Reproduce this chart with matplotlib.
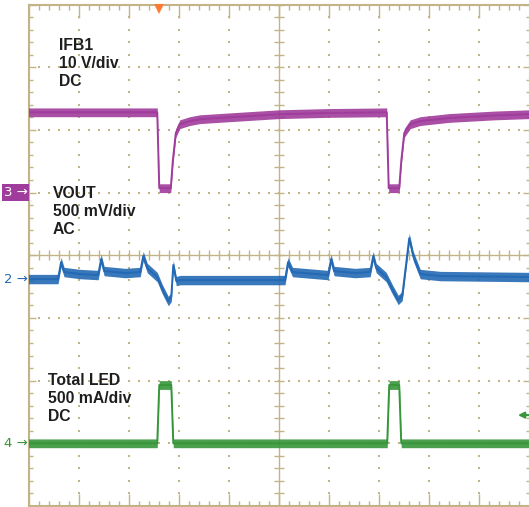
import numpy as np
import matplotlib.pyplot as plt
from matplotlib.transforms import blended_transform_factory

# time axis in screen divisions (10 div across)
ifb_t = [0, 2.57, 2.61, 2.84, 2.88, 2.94, 3.02, 3.22, 3.42, 4.0, 5.0, 6.0,
         7.15, 7.19, 7.40, 7.44, 7.50, 7.62, 7.82, 8.4, 9.3, 10]
ifb_v = [12.8, 12.8, 0.7, 0.7, 5.0, 9.5, 10.9, 11.4, 11.7, 12.0, 12.5, 12.7,
         12.8, 0.7, 0.7, 5.0, 9.5, 10.9, 11.4, 11.9, 12.3, 12.5]

vout_t = [0, 0.59, 0.65, 0.71, 1.03, 1.39, 1.45, 1.51, 1.93, 2.23, 2.29, 2.37,
          2.57, 2.67, 2.79, 2.85, 2.89, 2.95, 3.03, 5.12, 5.18, 5.27, 5.98,
          6.04, 6.10, 6.52, 6.82, 6.88, 6.94, 7.14, 7.26, 7.38, 7.46, 7.60,
          7.68, 7.82, 8.22, 10]
vout_mv = [0, 0, 135, 56, 40, 32, 160, 64, 48, 56, 183, 88,
           16, -80, -175, -143, 112, -16, -8, -8, 135, 56, 32,
           160, 64, 48, 56, 183, 88, 16, -80, -167, -135, 327,
           183, 40, 24, 16]

led_t = [0, 2.57, 2.61, 2.85, 2.89, 7.16, 7.20, 7.40, 7.44, 10]
led_ma = [0, 0, 465, 465, 0, 0, 465, 465, 0, 0]

# channel settings: units per div and ground marker position (div)
ifb_scale, ifb_pos = 10.0, 1.0
vout_scale, vout_pos = 500.0, -0.38
led_scale, led_pos = 500.0, -3.0
trig_t = 2.61
trig_level = 225  # mA, on the LED channel

grid_c = '#c3b487'
purple = '#a03c9b'
blue = '#2369b4'
green = '#37963a'
orange = '#ff7a33'

fig = plt.figure(figsize=(5.29, 5.07), dpi=100)
ax = fig.add_axes([28.5/529, 1/507, 501/529, 501.5/507])
ax.set_xlim(0, 10)
ax.set_ylim(-4, 4)

# graticule
minor_x = np.arange(0, 10.001, 0.2)
minor_y = np.arange(-4, 4.001, 0.2)
for gx in [1, 2, 3, 4, 6, 7, 8, 9]:
    ax.scatter(np.full(len(minor_y), gx), minor_y, s=1.6, marker='s',
               color=grid_c, lw=0, zorder=1)
for gy in [-3, -2, -1, 1, 2, 3]:
    ax.scatter(minor_x, np.full(len(minor_x), gy), s=1.6, marker='s',
               color=grid_c, lw=0, zorder=1)
ax.axvline(5, color=grid_c, lw=1, zorder=1)
ax.axhline(0, color=grid_c, lw=1, zorder=1)
ax.vlines(minor_x, -0.08, 0.08, color=grid_c, lw=1, zorder=1)
ax.hlines(minor_y, 4.9, 5.1, color=grid_c, lw=1, zorder=1)

ax.set_xticks(range(11))
ax.set_yticks(range(-4, 5))
ax.set_xticks(minor_x, minor=True)
ax.set_yticks(minor_y, minor=True)
ax.tick_params(which='both', direction='in', top=True, right=True,
               labelbottom=False, labelleft=False, color=grid_c, width=1)
ax.tick_params(axis='x', which='major', length=9)
ax.tick_params(axis='x', which='minor', length=3.5)
ax.tick_params(axis='y', which='major', length=5)
ax.tick_params(axis='y', which='minor', length=3)
for sp in ax.spines.values():
    sp.set_color(grid_c)
    sp.set_linewidth(1.5)


def trace(t, v, scale, pos, color, half):
    t = np.asarray(t, dtype=float)
    y = pos + np.asarray(v, dtype=float) / scale
    ax.fill_between(t, y - half, y + half, color=color, lw=0, alpha=0.9, zorder=3)
    ax.plot(t, y, color=color, lw=1.4, zorder=4)


trace(ifb_t, ifb_v, ifb_scale, ifb_pos, purple, 0.07)
trace(vout_t, vout_mv, vout_scale, vout_pos, blue, 0.075)
trace(led_t, led_ma, led_scale, led_pos, green, 0.07)

# channel labels
txt = dict(fontsize=11.3, fontweight='bold', family='Liberation Sans',
           va='top', ha='left', color='#1e1e1e', zorder=5, linespacing=1.25)
ax.text(0.61, 3.46, 'IFB1\n10 V/div\nDC', **txt)
ax.text(0.49, 1.10, 'VOUT\n500 mV/div\nAC', **txt)
ax.text(0.39, -1.88, 'Total LED\n500 mA/div\nDC', **txt)

# ground markers on the left
tr = blended_transform_factory(fig.transFigure, ax.transData)
mk = dict(transform=tr, ha='center', va='center', fontsize=9.5,
          family='DejaVu Sans', clip_on=False, zorder=6)
ax.text(15.5/529, ifb_pos, '3 →', color='white',
        bbox=dict(boxstyle='square,pad=0.15', fc=purple, ec='none'), **mk)
ax.text(15.5/529, vout_pos, '2 →', color=blue, **mk)
ax.text(15.5/529, led_pos, '4 →', color=green, **mk)

# trigger position and level
ax.plot([trig_t], [3.93], marker='v', color=orange, ms=7, mew=0,
        clip_on=False, zorder=6)
trig_y = led_pos + trig_level / led_scale
ax.annotate('', xy=(9.77, trig_y), xytext=(10.0, trig_y),
            arrowprops=dict(arrowstyle='-|>', color=green, lw=1.5,
                            mutation_scale=9, shrinkA=0, shrinkB=0),
            annotation_clip=False)

fig.savefig('out.png', dpi=100, facecolor='white')
